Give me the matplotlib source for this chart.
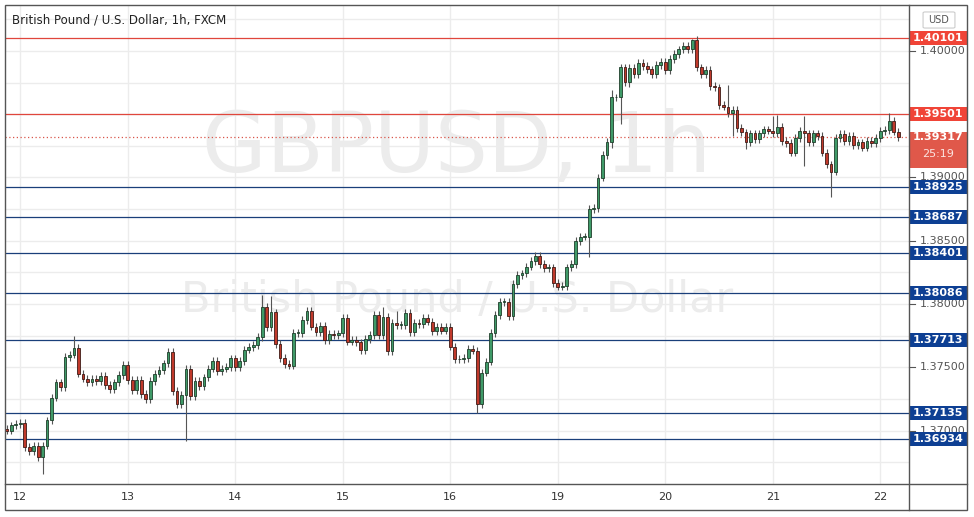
import numpy as np
import matplotlib
matplotlib.use('Agg')
import matplotlib.pyplot as plt
from matplotlib.patches import Rectangle, FancyBboxPatch
import matplotlib.transforms as mtransforms

plt.rcParams['font.family'] = ['DejaVu Sans']

# hourly closes (GBPUSD, FXCM)
first_open = 1.3701
closes = [
    1.3700, 1.3704, 1.3705, 1.3706, 1.3687, 1.3684, 1.3688, 1.3679, 1.3688, 1.3708,
    1.3726, 1.3738, 1.3734, 1.3758, 1.3760, 1.3765, 1.3745, 1.3741, 1.3738, 1.3741,
    1.3739, 1.3743, 1.3736, 1.3733, 1.3738, 1.3744, 1.3752, 1.3740, 1.3732, 1.3740,
    1.3729, 1.3725, 1.3739, 1.3745, 1.3748, 1.3753, 1.3762, 1.3731, 1.3721, 1.3728,
    1.3749, 1.3727, 1.3739, 1.3735, 1.3742, 1.3749, 1.3755, 1.3747, 1.3749, 1.3750,
    1.3757, 1.3750, 1.3755, 1.3764, 1.3766,
    1.37676, 1.37737, 1.37979, 1.37816, 1.37934, 1.37684, 1.37571, 1.37526, 1.37513, 1.37773,
    1.37773, 1.37873, 1.37947, 1.37821, 1.37776, 1.37826, 1.37715, 1.37763, 1.37755, 1.37768,
    1.37889, 1.37702, 1.37715, 1.37697, 1.37636, 1.37723, 1.37755, 1.37913, 1.37755, 1.37895,
    1.37628, 1.37852, 1.37834, 1.37834, 1.37931, 1.37776, 1.37852, 1.37839, 1.37892, 1.37861,
    1.37787, 1.37816, 1.37789, 1.37816, 1.37663, 1.37563, 1.37563, 1.37571, 1.37642, 1.37631,
    1.37209, 1.37457, 1.37544, 1.37773, 1.37913, 1.38018,
    1.38018, 1.37905, 1.38158, 1.38229, 1.38242, 1.38295, 1.38342, 1.38379, 1.38314, 1.38282,
    1.38290, 1.38164, 1.38137, 1.38142, 1.38290, 1.38314, 1.38498, 1.38532, 1.38532, 1.38749,
    1.38757, 1.38999, 1.39178, 1.39283, 1.39634, 1.39634, 1.39871, 1.39757, 1.39868, 1.39816,
    1.39903, 1.39881, 1.39855, 1.39816, 1.39889, 1.39913, 1.39850, 1.39937, 1.39976, 1.40013,
    1.40040, 1.40013,
    1.40087, 1.39871, 1.39816, 1.39850, 1.39723, 1.39713, 1.39573, 1.39560, 1.39508, 1.39534,
    1.39389, 1.39357, 1.39278, 1.39349, 1.39302, 1.39349, 1.39381, 1.39370, 1.39354, 1.39397,
    1.39289, 1.39275, 1.39196, 1.39310, 1.39368, 1.39349, 1.39278, 1.39349, 1.39330, 1.39196,
    1.39104, 1.39046, 1.39310, 1.39342, 1.39289, 1.39328, 1.39257, 1.39278, 1.39236, 1.39289,
    1.39270, 1.39310, 1.39368, 1.39376, 1.39447, 1.39362, 1.39317,
]
# wick lengths above / below the body, in pips
wick_up = [
    3, 3, 3, 3, 3, 3, 3, 3, 3, 3,  3, 3, 3, 3, 3, 10, 3, 3, 3, 3,
    3, 3, 3, 3, 3, 3, 3, 3, 3, 3,  3, 3, 3, 3, 3, 3, 3, 3, 3, 3,
    3, 3, 3, 3, 3, 3, 3, 3, 3, 3,  3, 3, 3, 3, 3, 3, 3, 9, 3, 13,
    3, 3, 3, 3, 3, 3, 3, 3, 3, 3,  3, 3, 3, 3, 3, 3, 3, 3, 3, 3,
    3, 3, 3, 3, 8, 3, 3, 9, 3, 3,  3, 3, 3, 3, 3, 3, 3, 3, 3, 3,
    3, 3, 3, 3, 3, 3, 3, 3, 3, 3,  3, 3, 3, 3, 3, 3, 3, 3, 3, 3,
    3, 3, 3, 3, 3, 3, 3, 3, 3, 3,  3, 3, 3, 3, 3, 6, 3, 3, 3, 3,
    3, 3, 3, 3, 3, 3, 3, 3, 3, 3,  3, 3, 3, 1, 3, 3, 3, 3, 3, 3,
    3, 17, 3, 3, 3, 3, 3, 3, 3, 3,  3, 12, 10, 3, 3, 3, 3, 3, 12, 3,
    3, 3, 3, 3, 3, 3, 3, 3, 3, 3,  3, 3, 3, 3, 3, 3, 3, 6, 3, 3,
]
wick_dn = [
    3, 3, 3, 3, 3, 3, 3, 3, 13, 3,  3, 3, 3, 3, 3, 3, 3, 3, 3, 3,
    3, 3, 3, 3, 3, 3, 3, 3, 3, 3,  3, 3, 3, 3, 3, 3, 3, 3, 3, 3,
    36, 3, 3, 3, 3, 3, 3, 3, 3, 3,  3, 3, 3, 3, 3, 3, 3, 3, 3, 3,
    3, 3, 3, 3, 3, 3, 3, 3, 3, 3,  3, 3, 3, 3, 3, 3, 3, 3, 3, 3,
    3, 3, 3, 3, 3, 3, 3, 3, 3, 3,  3, 3, 3, 3, 3, 3, 3, 3, 3, 3,
    3, 3, 3, 3, 3, 7, 3, 3, 3, 3,  3, 3, 3, 3, 3, 3, 3, 3, 3, 3,
    3, 3, 3, 3, 3, 3, 3, 3, 3, 3,  16, 3, 3, 3, 3, 5, 3, 21, 3, 4,
    3, 3, 3, 3, 3, 3, 3, 3, 3, 3,  3, 3, 3, 3, 3, 3, 3, 3, 3, 3,
    3, 3, 18, 3, 3, 5, 3, 3, 3, 3,  3, 3, 3, 3, 3, 3, 3, 3, 26, 3,
    3, 3, 3, 3, 20, 3, 3, 3, 3, 3,  3, 3, 3, 3, 3, 3, 3, 3, 3, 3,
]

red_levels = [1.40101, 1.39501]
blue_levels = [1.38925, 1.38687, 1.38401, 1.38086, 1.37713, 1.37135, 1.36934]
last_price = 1.39317
day_labels = ['12', '13', '14', '15', '16', '19', '20', '21', '22']
y_ticks = [1.370, 1.375, 1.380, 1.385, 1.390, 1.400]  # 1.395 sits under the 1.39501 tag

closes = np.array(closes)
opens = np.concatenate([[first_open], closes[:-1]])
highs = np.maximum(opens, closes) + np.array(wick_up) * 1e-4
lows = np.minimum(opens, closes) - np.array(wick_dn) * 1e-4
x = np.arange(len(closes))
up = closes >= opens

W, H = 974, 517
fig = plt.figure(figsize=(W / 100, H / 100), dpi=100)
ax = fig.add_axes([5 / W, (H - 484) / H, 904 / W, 479 / H])
ax.set_xlim(-0.4, 201.4)
ax.set_ylim(1.365771, 1.403636)
for s in ax.spines.values():
    s.set_visible(False)
ax.set_xticks([])
ax.set_yticks([])

# grid
day_pos = [3 + 24 * i for i in range(len(day_labels))]
for d in day_pos:
    ax.axvline(d, color='#ececec', lw=1, zorder=0)
for t in np.arange(1.365, 1.4036, 0.0025):
    ax.axhline(t, color='#ececec', lw=1, zorder=0)

# watermark
ax.text(0.5, 0.70, 'GBPUSD, 1h', transform=ax.transAxes, ha='center', va='center',
        fontsize=60, color='#ececec', zorder=0.5)
ax.text(0.5, 0.385, 'British Pound / U.S. Dollar', transform=ax.transAxes, ha='center',
        va='center', fontsize=31, color='#ececec', zorder=0.5)

# levels
for lv in red_levels:
    ax.axhline(lv, color='#e0463c', lw=0.9, zorder=1)
for lv in blue_levels:
    ax.axhline(lv, color='#1a3f7a', lw=0.9, zorder=1)
ax.axhline(last_price, color='#d9554a', lw=0.9, ls=(0, (1, 2)), zorder=1)

# candles
ax.vlines(x, lows, highs, color='#555555', lw=0.8, zorder=2)
body = np.abs(closes - opens)
body = np.where(body < 0.00004, 0.00004, body)
ax.bar(x[up], body[up], bottom=np.minimum(opens, closes)[up], width=0.62,
       color='#3f9a68', edgecolor='#1f3d2a', lw=0.6, zorder=3)
ax.bar(x[~up], body[~up], bottom=np.minimum(opens, closes)[~up], width=0.62,
       color='#c0392b', edgecolor='#3d1a16', lw=0.6, zorder=3)

# right price axis
trans = mtransforms.blended_transform_factory(ax.transAxes, ax.transData)
for t in y_ticks:
    ax.text(1.012, t, f'{t:.5f}', transform=trans, ha='left', va='center',
            fontsize=8, color='#555555', clip_on=False)
    ax.plot([1.0, 1.007], [t, t], transform=trans, color='#555555', lw=0.8, clip_on=False)


def price_tag(y, text, color, h=0.0011):
    box = Rectangle((1.0, y - h / 2), 0.064, h, transform=trans, facecolor=color,
                    edgecolor='none', clip_on=False, zorder=5)
    ax.add_patch(box)
    ax.text(1.032, y, text, transform=trans, ha='center', va='center', fontsize=8,
            fontweight='bold', color='white', clip_on=False, zorder=6)


for lv in red_levels:
    price_tag(lv, f'{lv:.5f}', '#f04437')
for lv in blue_levels:
    price_tag(lv, f'{lv:.5f}', '#0d3f93')
box = Rectangle((1.0, last_price - 0.0024), 0.064, 0.0028, transform=trans,
                facecolor='#e0584a', edgecolor='none', clip_on=False, zorder=5)
ax.add_patch(box)
ax.text(1.032, last_price, f'{last_price:.5f}', transform=trans, ha='center', va='center',
        fontsize=8, fontweight='bold', color='white', clip_on=False, zorder=6)
ax.text(1.032, last_price - 0.0013, '25:19', transform=trans, ha='center', va='center',
        fontsize=8, color='#fbe3e0', clip_on=False, zorder=6)

# date axis
for d, lab in zip(day_pos, day_labels):
    ax.text(d, -0.028, lab, transform=mtransforms.blended_transform_factory(ax.transData, ax.transAxes),
            ha='center', va='center', fontsize=8, color='#333333', clip_on=False)

# frame lines in pixel coords
def fx(px):
    return px / W


def fy(py):
    return 1 - py / H


fig.add_artist(Rectangle((fx(5), fy(510)), fx(962), 505 / H, fill=False,
                         edgecolor='#555555', lw=1))
fig.add_artist(plt.Line2D([fx(909), fx(909)], [fy(5), fy(510)], color='#555555', lw=1))
fig.add_artist(plt.Line2D([fx(5), fx(967)], [fy(484), fy(484)], color='#555555', lw=1))

fig.text(fx(12), fy(20), 'British Pound / U.S. Dollar, 1h, FXCM', fontsize=8.5,
         color='#222222', va='center')
fig.add_artist(FancyBboxPatch((fx(925), fy(27)), fx(28), 14 / H,
                              boxstyle='round,pad=0.002', facecolor='white',
                              edgecolor='#cccccc', lw=0.8))
fig.text(fx(939), fy(20), 'USD', fontsize=7, color='#555555', ha='center', va='center')

fig.savefig('out.png', dpi=100, facecolor='white')
